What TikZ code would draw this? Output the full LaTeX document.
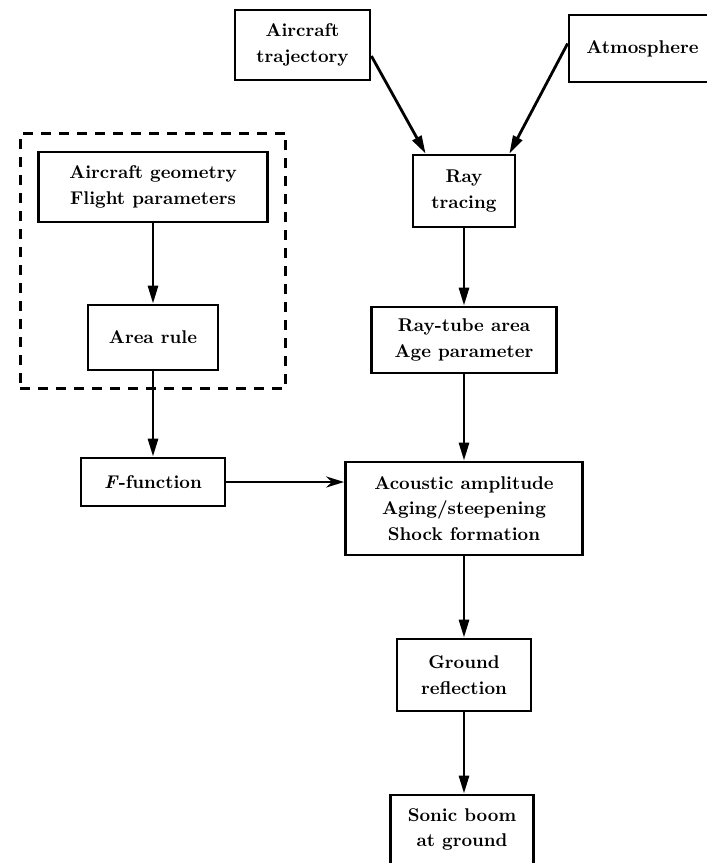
\documentclass[tikz,border=0pt]{standalone}
\usepackage{tikz}
\usetikzlibrary{shapes,arrows.meta,positioning,calc,fit}

\begin{document}
\begin{tikzpicture}[
    x=0.02cm, y=-0.02cm,
    font=\fontsize{10.5}{14.5}\selectfont\bfseries,
    box/.style={rectangle, draw, line width=1.6pt, align=center},
    arrow/.style={-{Triangle[length=3.6mm,width=2mm]}, line width=1.6pt},
    sidearrow/.style={-{Stealth[length=3.6mm,width=2.2mm]}, line width=1.6pt},
    group/.style={draw, line width=1.6pt, dash pattern=on 0.2cm off 0.16cm, inner sep=0.34cm}
]
\useasboundingbox (0,0) rectangle (707,863);
\clip (0,0) rectangle (707,863);

% Inputs
\node[box, minimum width=2.7cm, minimum height=1.4cm] (traj) at (302.5,45) {Aircraft\\trajectory};
\node[box, minimum width=2.94cm, minimum height=1.34cm] (atmo) at (642.5,48.5) {Atmosphere};

% Aircraft model
\node[box, minimum width=4.58cm, minimum height=1.4cm] (geom) at (153,187) {Aircraft geometry\\Flight parameters};
\node[box, minimum width=2.6cm, minimum height=1.3cm] (area) at (153,337.5) {Area rule};
\node[group, fit=(geom) (area)] (model) {};
\node[box, minimum width=2.88cm, minimum height=0.96cm] (ffun) at (153,482) {\textit{F}-function};

% Propagation
\node[box, minimum width=2.04cm, minimum height=1.44cm] (ray) at (464,191) {Ray\\tracing};
\node[box, minimum width=3.7cm, minimum height=1.32cm] (tube) at (464,340) {Ray-tube area\\Age parameter};
\node[box, minimum width=4.74cm, minimum height=1.86cm] (acou) at (464,508.5) {Acoustic amplitude\\Aging/steepening\\Shock formation};
\node[box, minimum width=2.68cm, minimum height=1.44cm] (grnd) at (464,675) {Ground\\reflection};
\node[box, minimum width=2.86cm, minimum height=1.38cm] (boom) at (462,829.5) {Sonic boom\\at ground};

% Arrows
\draw[arrow] ($(traj.east)+(0,11)$) -- ($(ray.north west)+(14,0)$);
\draw[arrow] ($(atmo.west)+(0,-5)$) -- ($(ray.north east)+(-7,0)$);
\draw[arrow] (geom) -- (area);
\draw[arrow] (area) -- (ffun);
\draw[sidearrow] (ffun) -- (ffun -| acou.west);
\draw[arrow] (ray) -- (tube);
\draw[arrow] (tube) -- (acou);
\draw[arrow] (acou) -- (grnd);
\draw[arrow] (grnd) -- (grnd |- boom.north);

\end{tikzpicture}
\end{document}
